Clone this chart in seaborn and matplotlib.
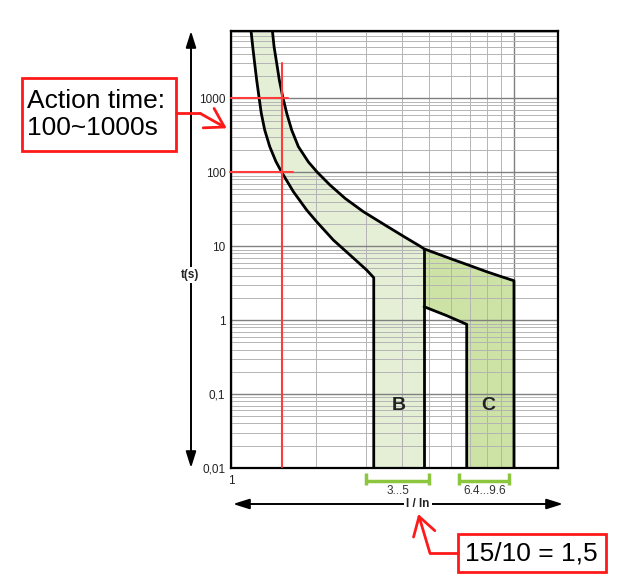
import numpy as np
import pandas as pd
import matplotlib
matplotlib.use("Agg")
import matplotlib.pyplot as plt
import seaborn as sns
from matplotlib.patches import Rectangle
from matplotlib.lines import Line2D
from matplotlib.ticker import NullFormatter, LogLocator

# tripping curve boundaries (I/In, seconds)
upper_x = [1.399, 1.419, 1.45, 1.481, 1.522, 1.573, 1.637, 1.729, 1.875, 2.017, 2.236,
           2.526, 2.931, 3.497, 4.114, 4.647, 4.80, 6.0, 6.98, 7.98, 9.0, 9.97]
upper_t = [8390, 4990, 2972, 1766, 1052, 627, 373, 222, 138, 99.8, 67.1,
           44.4, 29.3, 19.3, 13.2, 10.0, 9.2, 6.71, 5.45, 4.52, 3.87, 3.41]

lower_x = [1.176, 1.193, 1.212, 1.232, 1.255, 1.279, 1.315, 1.37, 1.44, 1.51,
           1.66, 1.85, 2.006, 2.297, 2.63, 3.01, 3.19]
lower_t = [8390, 4990, 2972, 1766, 1052, 627, 373, 222, 140, 100,
           54.6, 30.8, 21.4, 12.1, 7.6, 4.76, 3.75]

c_low_x = [4.80, 5.77, 6.79]
c_low_t = [1.52, 1.15, 0.877]

b_left, b_right = 3.19, 4.80
c_left, c_right = 6.79, 9.97
t_min = 0.01

y_ticks = [0.01, 0.1, 1, 10, 100, 1000]
y_labels = ["0,01", "0,1", "1", "10", "100", "1000"]

bracket_lo = [3.0, 6.4]
bracket_hi = [5.0, 9.6]
bracket_labels = ["3...5", "6.4...9.6"]

curve_labels = ["B", "C"]
curve_label_x = [3.9, 8.1]
curve_label_t = [0.07, 0.07]

red_x = 1.51          # I/In = 1.5
red_t = [1000, 100]   # action time limits

sns.set_style("white")
plt.rcParams["font.family"] = ["Liberation Sans", "DejaVu Sans"]

W, H = 640, 587
fig = plt.figure(figsize=(6.4, 5.87), dpi=100)
ax = fig.add_axes([231 / W, 1 - 468 / H, (557.5 - 231) / W, (468 - 31) / H])
ax.set_xscale("log")
ax.set_yscale("log")


def fpx(x, y):
    return (x / W, 1 - y / H)


# filled bands
ux = np.array(upper_x)
ut = np.array(upper_t)
mask_b = ux <= b_right
b_poly_x = lower_x + [b_left, b_right] + list(ux[mask_b][::-1])
b_poly_t = lower_t + [t_min, t_min] + list(ut[mask_b][::-1])
ax.fill(b_poly_x, b_poly_t, color="#e4efd6", lw=0, zorder=0.2)

mask_c = ux >= b_right
c_poly_x = list(ux[mask_c]) + [c_right, c_left] + c_low_x[::-1]
c_poly_t = list(ut[mask_c]) + [t_min, t_min] + c_low_t[::-1]
ax.fill(c_poly_x, c_poly_t, color="#cde3a6", lw=0, zorder=0.2)

# boundary lines
segs = []
segs.append(pd.DataFrame({"x": lower_x + [b_left], "t": lower_t + [t_min], "seg": "b_low"}))
segs.append(pd.DataFrame({"x": upper_x + [c_right], "t": upper_t + [t_min], "seg": "upper"}))
segs.append(pd.DataFrame({"x": [b_right, b_right], "t": [ut[mask_b][-1], t_min], "seg": "b_right"}))
segs.append(pd.DataFrame({"x": c_low_x + [c_left], "t": c_low_t + [t_min], "seg": "c_low"}))
lines_df = pd.concat(segs, ignore_index=True)
sns.lineplot(data=lines_df, x="x", y="t", units="seg", estimator=None, sort=False,
             color="black", lw=2, ax=ax, legend=False, zorder=3)

# red reading lines
ax.plot([red_x, red_x], [3000, 0.0104], color="#ff3b3b", lw=1.5, zorder=4)
ax.plot([1.0, 1.593], [red_t[0], red_t[0]], color="#ff3b3b", lw=1.5, zorder=4, clip_on=False)
ax.plot([0.992, 1.66], [red_t[1], red_t[1]], color="#ff3b3b", lw=1.5, zorder=4, clip_on=False)

for lab, lx, lt in zip(curve_labels, curve_label_x, curve_label_t):
    ax.text(lx, lt, lab, fontsize=14, fontweight="bold", ha="center", va="center",
            color="#222222", zorder=5)

ax.set_xlim(1, 14.2)
ax.set_ylim(0.01, 8130)

ax.set_yticks(y_ticks)
ax.set_yticklabels(y_labels, fontsize=8.5, color="#222222")
ax.yaxis.set_minor_locator(LogLocator(base=10, subs=np.arange(2, 10)))
ax.yaxis.set_minor_formatter(NullFormatter())
ax.set_xticks([1, 10])
ax.set_xticklabels(["1", ""], fontsize=8.5, color="#222222")
ax.xaxis.set_minor_locator(LogLocator(base=10, subs=np.arange(2, 10)))
ax.xaxis.set_minor_formatter(NullFormatter())
ax.tick_params(axis="both", which="both", length=0)
ax.tick_params(axis="y", pad=4)
ax.tick_params(axis="x", pad=5)
ax.set_xlabel("")
ax.set_ylabel("")

ax.grid(True, which="major", color="#808080", lw=1.0)
ax.grid(True, which="minor", color="#b4b4b4", lw=0.7)
for s in ax.spines.values():
    s.set_color("black")
    s.set_linewidth(1.6)
    s.set_visible(True)

# green range brackets under the axis
trans = ax.get_xaxis_transform()
for lo, hi, lab in zip(bracket_lo, bracket_hi, bracket_labels):
    kw = dict(color="#8cc63f", lw=2.5, transform=trans, clip_on=False, solid_capstyle="butt")
    ax.plot([lo, hi], [-0.0297, -0.0297], **kw)
    ax.plot([lo, lo], [-0.0114, -0.0389], **kw)
    ax.plot([hi, hi], [-0.0114, -0.0389], **kw)
    ax.text(np.sqrt(lo * hi), -0.0584, lab, transform=trans, ha="center", va="baseline",
            fontsize=8.5, color="#333333")

# axis arrows
arrow_kw = dict(arrowstyle="<|-|>,head_length=0.7,head_width=0.22", color="black", lw=1.4,
                shrinkA=0, shrinkB=0, mutation_scale=14)
ax.annotate("", xy=fpx(191, 31), xycoords="figure fraction", xytext=fpx(191, 468),
            textcoords="figure fraction", arrowprops=arrow_kw, annotation_clip=False)
ax.annotate("", xy=fpx(233, 504), xycoords="figure fraction", xytext=fpx(563, 504),
            textcoords="figure fraction", arrowprops=arrow_kw, annotation_clip=False)
fig.text(*fpx(190, 275), "t(s)", ha="center", va="center", fontsize=8.5, fontweight="bold",
         color="#222222", bbox=dict(fc="white", ec="none", pad=1.5))
fig.text(*fpx(418, 504), "I / In", ha="center", va="center", fontsize=8.5, fontweight="bold",
         color="#222222", bbox=dict(fc="white", ec="none", pad=1.5))

# red call-out boxes
red = "#ff1a1a"
fig.add_artist(Rectangle(fpx(21.7, 150.7), 154.3 / W, 72.4 / H, transform=fig.transFigure,
                         fill=False, ec=red, lw=2))
fig.text(*fpx(27, 114.5), "Action time:\n100~1000s", ha="left", va="center", fontsize=19,
         linespacing=1.15, color="black")
fig.add_artist(Line2D([176 / W, 200 / W], [1 - 113.3 / H, 1 - 113.3 / H],
                      transform=fig.transFigure, color=red, lw=2))
red_arrow = dict(arrowstyle="->,head_length=0.65,head_width=0.4", color=red, lw=2,
                 shrinkA=0, shrinkB=0, mutation_scale=20)
ax.annotate("", xy=fpx(226.7, 128.3), xycoords="figure fraction", xytext=fpx(200, 113.3),
            textcoords="figure fraction", arrowprops=red_arrow, annotation_clip=False)

fig.add_artist(Rectangle(fpx(458.3, 572.3), 147.7 / W, 38 / H, transform=fig.transFigure,
                         fill=False, ec=red, lw=2))
fig.text(*fpx(531, 553.3), "15/10 = 1,5", ha="center", va="center", fontsize=19, color="black")
fig.add_artist(Line2D([458.3 / W, 430 / W], [1 - 553.3 / H, 1 - 553.3 / H],
                      transform=fig.transFigure, color=red, lw=2))
ax.annotate("", xy=fpx(418.3, 514), xycoords="figure fraction", xytext=fpx(430, 553.3),
            textcoords="figure fraction", arrowprops=red_arrow, annotation_clip=False)

fig.savefig("out.png", dpi=100, facecolor="white")
